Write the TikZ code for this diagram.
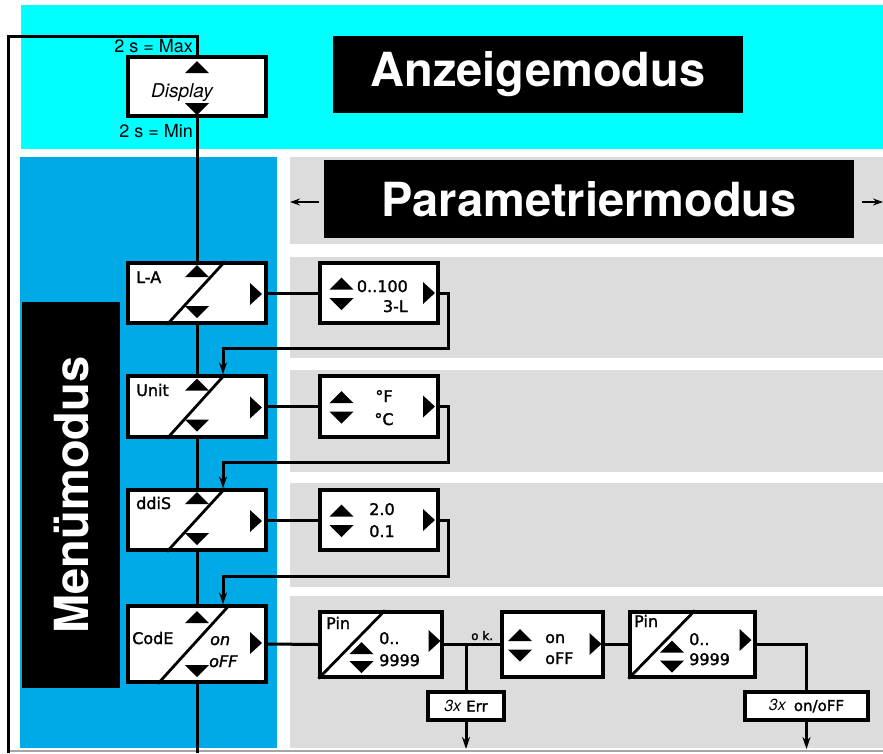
\documentclass[tikz,border=0pt]{standalone}
\usepackage{fontspec}
\setmainfont{TeX Gyre Heros}
\newfontfamily\lcdfont[FakeBold=1.6]{DejaVu Sans}
\usetikzlibrary{arrows.meta,calc}
\definecolor{cyanbg}{RGB}{0,255,255}
\definecolor{bluebg}{RGB}{0,170,230}
\definecolor{graybg}{RGB}{220,220,220}
\tikzset{
  box/.style={draw,line width=3.2pt,fill=white,inner sep=0pt},
  mbox/.style={box,minimum width=138pt,minimum height=60pt},
  pbox/.style={box,minimum width=118pt,minimum height=60pt},
  lcd/.style={font=\lcdfont\fontsize{16}{16}\selectfont,inner sep=0pt},
  lcdit/.style={font=\lcdfont\itshape\fontsize{16}{16}\selectfont,inner sep=0pt},
  conn/.style={line width=3pt},
  diag/.style={line width=2.8pt},
  arr/.style={line width=3pt,-{Stealth[length=12pt,width=8pt]}},
  sarr/.style={line width=2.4pt,-{Stealth[length=10pt,width=7pt]}},
  title/.style={fill=black,text=white,font=\bfseries\fontsize{47}{47}\selectfont,inner sep=0pt},
  small/.style={font=\fontsize{18}{18}\selectfont,inner sep=0pt},
  tup/.pic={\fill (-12,6) -- (0,-6) -- (12,6) -- cycle;},
  tdown/.pic={\fill (-12,-6) -- (0,6) -- (12,-6) -- cycle;},
  tright/.pic={\fill (-6,-11) -- (6,0) -- (-6,11) -- cycle;},
}
\begin{document}
\begin{tikzpicture}[x=1pt,y=-1pt]
\useasboundingbox (0,0) rectangle (883,753);
% backgrounds
\fill[cyanbg] (21,5) rectangle (883,149);
\fill[bluebg] (20,157) rectangle (277,748);
\fill[graybg] (290,157) rectangle (883,244);
\fill[graybg] (290,257) rectangle (883,358);
\fill[graybg] (290,370) rectangle (883,472);
\fill[graybg] (290,483) rectangle (883,587);
\fill[graybg] (290,596) rectangle (883,748);
\draw[black!35,line width=1.4pt] (8,751) -- (883,751);

% titles
\node[title,minimum width=410pt,minimum height=77pt] (anz) at (538,74.5) {Anzeigemodus};
\node[title,minimum width=530pt,minimum height=78pt] (par) at (589,199) {Parametriermodus};
\node[title,rotate=90,minimum width=386pt,minimum height=98pt] (men) at (71,495) {Menümodus};
\coordinate (pl1) at (319,202); \coordinate (pl2) at (290,202);
\coordinate (pr1) at (862,202); \coordinate (pr2) at (883,202);
\draw[sarr] (pl1) -- (pl2);
\draw[sarr] (pr1) -- (pr2);

% display box
\node[mbox,minimum height=59pt] (disp) at (197,86.5) {};
\node[font=\itshape\fontsize{19}{19}\selectfont,inner sep=0pt,anchor=base] (dtxt) at (182,97) {Display};
\pic at (197,67) {tup};
\pic at (197,109) {tdown};
\coordinate (tl) at (197,36);
\coordinate (ll) at (8,36);
\coordinate (lb) at (8,753);
\draw[conn] (disp.north) -- (tl) -- (ll) -- (lb);
\node[small,anchor=base east] (max) at (193,52) {2 s = Max};
\node[small,anchor=base east] (min) at (193,137) {2 s = Min};

% menu boxes
\node[mbox] (la) at (197,293) {};
\node[mbox,minimum height=61pt] (unit) at (197,406.5) {};
\node[mbox] (ddis) at (197,520) {};
\node[mbox,minimum height=76pt] (code) at (197,644) {};
\coordinate (mb) at (197,753);
\draw[conn] (disp.south) -- (la.north);
\draw[conn] (la.south) -- (unit.north);
\draw[conn] (unit.south) -- (ddis.north);
\draw[conn] (ddis.south) -- (code.north);
\draw[conn] (code.south) -- (mb);

\foreach \b in {la,unit,ddis}{
  \draw[diag] ([xshift=-30pt]\b.south) -- ([xshift=28pt]\b.north);
  \pic at ($(\b.center)+(0,-22)$) {tup};
  \pic at ($(\b.center)+(0,19)$) {tdown};
  \pic at ($(\b.center)+(59,1)$) {tright};
}
\node[lcd,anchor=base west] (tla) at (136,283) {L-A};
\node[lcd,anchor=base west] (tun) at (136,396) {Unit};
\node[lcd,anchor=base west] (tdd) at (136,509) {ddiS};

% CodE
\draw[diag] ([xshift=-39pt]code.south) -- ([xshift=33pt]code.north);
\pic at (197,617) {tup};
\pic at (197,671) {tdown};
\pic at (256,643) {tright};
\node[lcd,anchor=base west] (tcd) at (132,644) {CodE};
\node[lcdit,anchor=base west] (ton) at (210,645) {on};
\node[lcdit,anchor=base west] (tof) at (209,667) {oFF};

% parameter boxes
\node[pbox] (laP) at (379,293) {};
\node[pbox,minimum height=61pt] (unitP) at (379,406.5) {};
\node[pbox] (ddisP) at (379,520) {};
\foreach \b in {laP,unitP,ddisP}{
  \pic at ($(\b.center)+(-37.5,-9.5)$) {tup};
  \pic at ($(\b.center)+(-37.5,11)$) {tdown};
  \pic at ($(\b.center)+(50,0)$) {tright};
}
\node[lcd,anchor=base east] (p1a) at (408,292) {0..100};
\node[lcd,anchor=base east] (p1b) at (408,312) {3-L};
\node[lcd,anchor=base] (p2a) at (384,402) {°F};
\node[lcd,anchor=base] (p2b) at (384,425) {°C};
\node[lcd,anchor=base] (p3a) at (382,515) {2.0};
\node[lcd,anchor=base] (p3b) at (382,537) {0.1};

\draw[conn] (la.east) -- (laP.west);
\draw[conn] (unit.east) -- (unitP.west);
\draw[conn] (ddis.east) -- (ddisP.west);

\coordinate (r1) at (448,348);
\coordinate (r2) at (448,462);
\coordinate (r3) at (448,576);
\draw[arr] (laP.east) -| (r1) -| ([xshift=26pt]unit.north);
\draw[arr] (unitP.east) -| (r2) -| ([xshift=26pt]ddis.north);
\draw[arr] (ddisP.east) -| (r3) -| ([xshift=26pt]code.north);

% code chain
\node[box,minimum width=122pt,minimum height=65pt] (pin1) at (381,644.5) {};
\draw[diag] (pin1.south west) -- ([xshift=4pt]pin1.north);
\node[lcd,anchor=base west] (pn1) at (326,629) {Pin};
\node[lcd,anchor=base west] (pa1) at (379,644) {0..};
\node[lcd,anchor=base west] (pb1) at (379,666) {9999};
\pic at (361.5,648) {tup};
\pic at (361.5,667) {tdown};
\pic at (434.5,641) {tright};

\node[box,minimum width=101pt,minimum height=65pt] (onoff) at (552.5,644.5) {};
\pic at (520,635) {tup};
\pic at (520,655.5) {tdown};
\pic at (595.5,644) {tright};
\node[lcd,anchor=base west] (oo1) at (545,643) {on};
\node[lcd,anchor=base west] (oo2) at (545,664) {oFF};

\node[box,minimum width=125pt,minimum height=65pt] (pin2) at (692.5,644.5) {};
\draw[diag] (pin2.south west) -- ([xshift=2.5pt]pin2.north);
\node[lcd,anchor=base west] (pn2) at (634,627) {Pin};
\node[lcd,anchor=base west] (pa2) at (689,645) {0..};
\node[lcd,anchor=base west] (pb2) at (689,665) {9999};
\pic at (672,646.5) {tup};
\pic at (672,666.5) {tdown};
\pic at (745.5,640) {tright};

\draw[conn] (code.east) -- (pin1.west);
\draw[conn] (pin1.east) -- (onoff.west);
\draw[conn] (onoff.east) -- (pin2.west);

\node[box,minimum width=76pt,minimum height=28pt] (err) at (466,706) {{\itshape\fontsize{16}{16}\selectfont 3x}\hspace{5pt}{\lcdfont\fontsize{15}{15}\selectfont Err}};
\coordinate (ok) at (err |- pin1.east);
\node[font=\lcdfont\fontsize{12}{12}\selectfont,inner sep=0pt,anchor=base west] (oktxt) at (471,640) {o k.};
\coordinate (e1) at (466,749);
\draw[conn] (ok) -- (err.north);
\draw[arr] (err.south) -- (e1);

\node[box,minimum width=123pt,minimum height=28pt] (oe) at (806.5,706) {{\itshape\fontsize{16}{16}\selectfont 3x}\hspace{8pt}{\lcdfont\fontsize{15}{15}\selectfont on/oFF}};
\coordinate (e2) at (806.5,749);
\draw[conn] (pin2.east) -| (oe.north);
\draw[arr] (oe.south) -- (e2);
\end{tikzpicture}
\end{document}
